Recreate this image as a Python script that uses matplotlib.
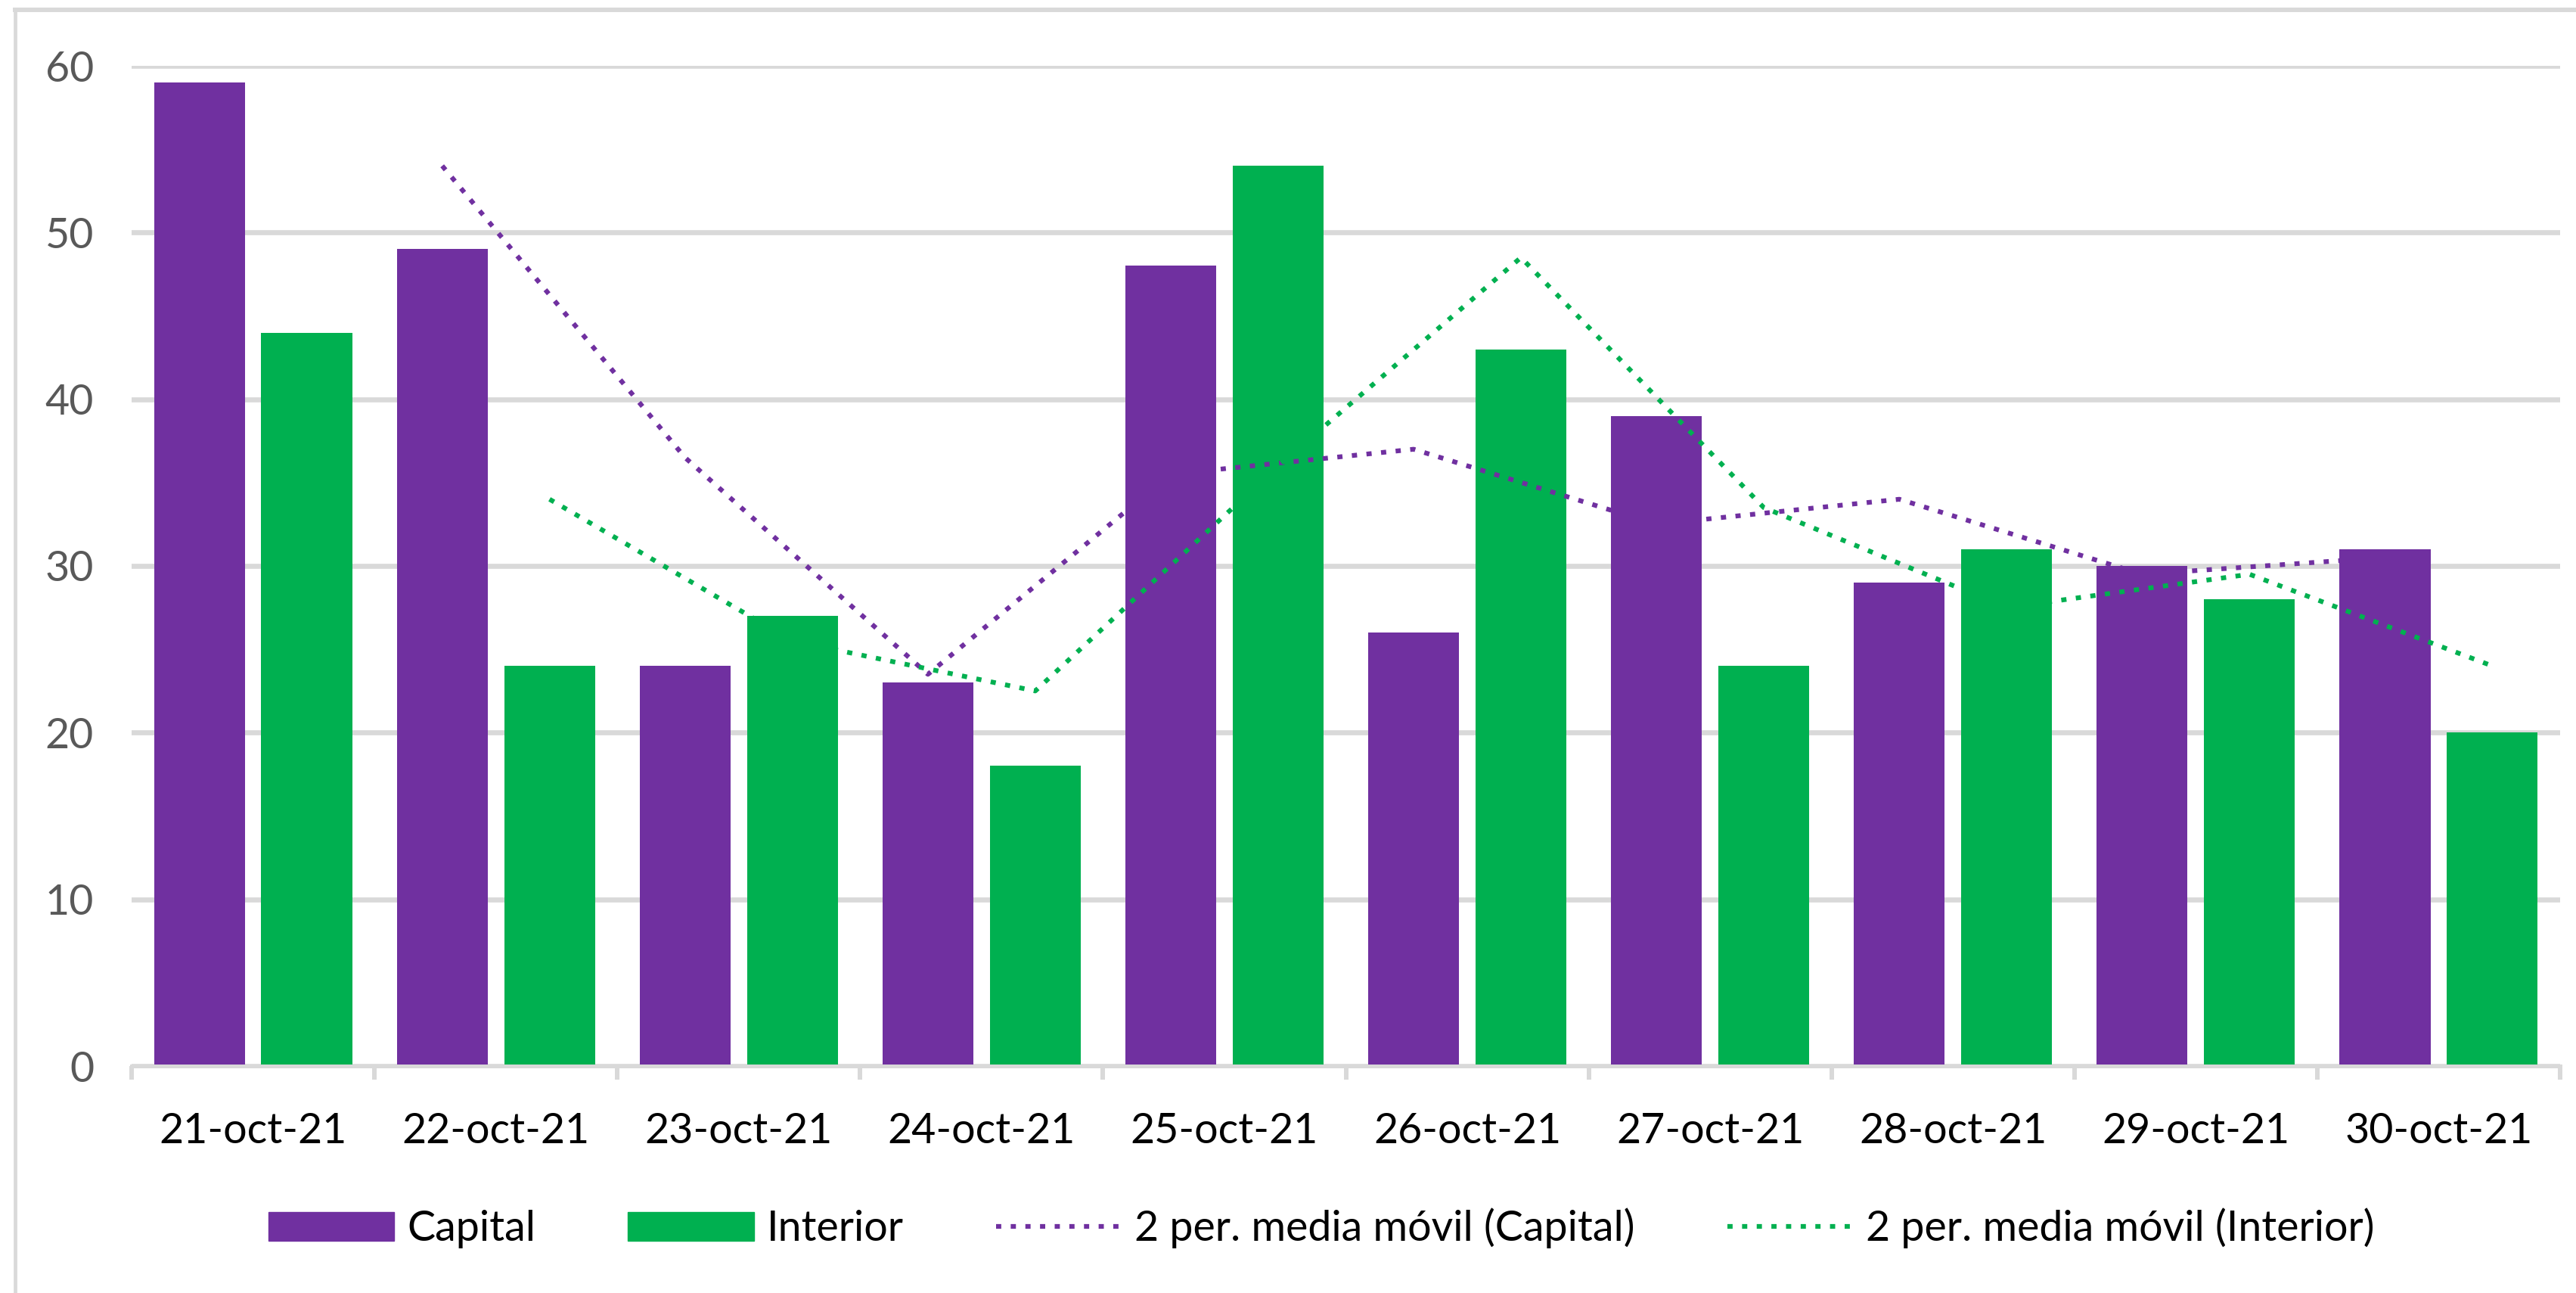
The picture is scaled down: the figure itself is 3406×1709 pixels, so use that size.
import numpy as np
import matplotlib
matplotlib.use('Agg')
import matplotlib.pyplot as plt
from matplotlib.lines import Line2D
from matplotlib.patches import Patch

# --- Datos ---
fechas = ['21-oct-21', '22-oct-21', '23-oct-21', '24-oct-21', '25-oct-21',
          '26-oct-21', '27-oct-21', '28-oct-21', '29-oct-21', '30-oct-21']
capital = [59, 49, 24, 23, 48, 26, 39, 29, 30, 31]
interior = [44, 24, 27, 18, 54, 43, 24, 31, 28, 20]
# medias móviles de 2 períodos (desde 22-oct)
mm_capital = [54, 36.5, 23.5, 35.5, 37, 32.5, 34, 29.5, 30.5]
mm_interior = [34, 25.5, 22.5, 36, 48.5, 33.5, 27.5, 29.5, 24]

morado = '#7030A0'
verde = '#00B050'
gris = '#D9D9D9'

plt.rcParams['font.family'] = ['Lato', 'DejaVu Sans']

fig = plt.figure(figsize=(34.06, 17.09), dpi=100)
ax = fig.add_axes([174 / 3406, 1 - 1409 / 1709, (3385 - 174) / 3406, (1409 - 87) / 1709])

x = np.arange(len(fechas))
ancho = 0.374
desp = 0.221
ax.bar(x - desp, capital, width=ancho, color=morado, zorder=3)
ax.bar(x + desp, interior, width=ancho, color=verde, zorder=3)

punteado = (0, (1.1, 2.0))
ax.plot(x[1:] - desp, mm_capital, color=morado, lw=4.5, linestyle=punteado, zorder=4)
ax.plot(x[1:] + desp, mm_interior, color=verde, lw=4.5, linestyle=punteado, zorder=4)

ax.set_xlim(-0.5, len(fechas) - 0.5)
ax.set_ylim(0, 60)
ax.set_yticks(range(0, 61, 10))
ax.yaxis.grid(True, color=gris, lw=4.8, zorder=0)
ax.tick_params(axis='y', length=0, pad=36, labelsize=40, labelcolor='#595959')

# marcas en los límites de categoría, etiquetas en el centro
ax.set_xticks(np.arange(-0.5, len(fechas), 1.0))
ax.set_xticklabels([])
ax.tick_params(axis='x', which='major', length=13, width=4.3, color=gris)
ax.set_xticks(x, minor=True)
ax.set_xticklabels(fechas, minor=True)
ax.tick_params(axis='x', which='minor', length=0, pad=44, labelsize=40, labelcolor='black')

for lado in ['top', 'right', 'left']:
    ax.spines[lado].set_visible(False)
ax.spines['bottom'].set_color(gris)
ax.spines['bottom'].set_linewidth(3.6)
ax.spines['bottom'].set_zorder(5)

handles = [Patch(color=morado), Patch(color=verde),
           Line2D([], [], color=morado, lw=4.5, linestyle=punteado),
           Line2D([], [], color=verde, lw=4.5, linestyle=punteado)]
etiquetas = ['Capital', 'Interior', '2 per. media móvil (Capital)', '2 per. media móvil (Interior)']
fig.legend(handles, etiquetas, loc='center', bbox_to_anchor=(0.513, 0.05), ncol=4,
           frameon=False, fontsize=40, handlelength=3.0, handleheight=0.68,
           handletextpad=0.3, columnspacing=2.2)

# borde del gráfico (izquierda y arriba)
fig.add_artist(Line2D([20 / 3406, 20 / 3406], [0, 1 - 13 / 1709], color=gris, lw=3.4,
                      transform=fig.transFigure))
fig.add_artist(Line2D([20 / 3406, 1], [1 - 13 / 1709, 1 - 13 / 1709], color=gris, lw=4.3,
                      transform=fig.transFigure))

fig.savefig('out.png', dpi=100, facecolor='white')
